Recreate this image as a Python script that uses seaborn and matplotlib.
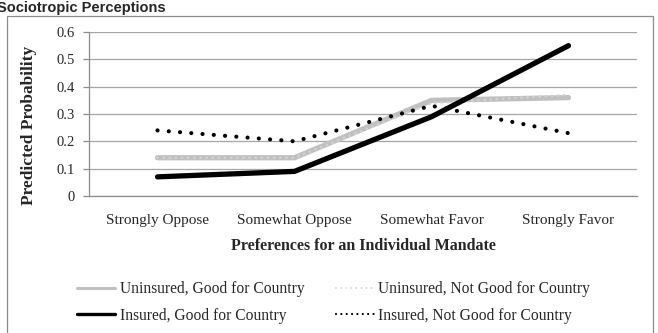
import matplotlib
matplotlib.use("Agg")
import matplotlib.pyplot as plt
import matplotlib.patches as patches
from matplotlib.lines import Line2D
import pandas as pd
import seaborn as sns

sns.set_style("white")
plt.rcParams['font.family'] = ['Liberation Serif', 'DejaVu Serif']

# data
categories = ["Strongly Oppose", "Somewhat Oppose", "Somewhat Favor", "Strongly Favor"]
uninsured_good = [0.14, 0.14, 0.35, 0.36]
uninsured_not_good = [0.14, 0.14, 0.34, 0.37]
insured_good = [0.07, 0.09, 0.29, 0.55]
insured_not_good = [0.24, 0.20, 0.33, 0.23]
y_ticks = [0, 0.1, 0.2, 0.3, 0.4, 0.5, 0.6]
y_tick_labels = ["0", "0.1", "0.2", "0.3", "0.4", "0.5", "0.6"]

series = {
    "Uninsured, Good for Country": uninsured_good,
    "Uninsured, Not Good for Country": uninsured_not_good,
    "Insured, Good for Country": insured_good,
    "Insured, Not Good for Country": insured_not_good,
}
styles = {
    "Uninsured, Good for Country": dict(color="#c0c0c0", lw=3.8, ls="-"),
    "Uninsured, Not Good for Country": dict(color="#d2d2d2", lw=2.0, ls=(0, (0.01, 2.2))),
    "Insured, Good for Country": dict(color="black", lw=3.8, ls="-"),
    "Insured, Not Good for Country": dict(color="black", lw=3.0, ls=(0, (0.01, 2.7))),
}
# thinner versions for the legend keys
legend_styles = {
    "Uninsured, Good for Country": dict(color="#c0c0c0", lw=2.2, ls="-"),
    "Uninsured, Not Good for Country": dict(color="#d2d2d2", lw=1.4, ls=(0, (0.01, 2.6))),
    "Insured, Good for Country": dict(color="black", lw=2.4, ls="-"),
    "Insured, Not Good for Country": dict(color="black", lw=1.6, ls=(0, (0.01, 2.4))),
}

fig = plt.figure(figsize=(6.58, 3.33), dpi=100)
ax = fig.add_axes([89 / 658, 1 - 196 / 333, (637 - 89) / 658, (196 - 32) / 333])

# outer chart border
fig.patches.append(patches.Rectangle((7 / 658, -0.05), (653 - 7) / 658, 1.05 - 16 / 333,
                                     transform=fig.transFigure, fill=False,
                                     edgecolor="#8c8c8c", linewidth=0.9))

for name, vals in series.items():
    d = pd.DataFrame({"x": range(len(categories)), "y": vals})
    st = styles[name]
    sns.lineplot(data=d, x="x", y="y", ax=ax, color=st["color"], linewidth=st["lw"],
                 linestyle=st["ls"], legend=False)
    line = ax.get_lines()[-1]
    line.set_dash_capstyle("round")
    line.set_solid_capstyle("round")

ax.set_xlim(-0.5, 3.5)
ax.set_ylim(0, 0.6)
ax.set_yticks(y_ticks)
ax.set_yticklabels(y_tick_labels, fontsize=10.5)
ax.yaxis.grid(True, color="#a6a6a6", linewidth=0.9)
ax.set_axisbelow(True)
ax.set_xticks(range(len(categories)))
ax.set_xticklabels(categories, fontsize=11)
ax.set_xticks([-0.5, 0.5, 1.5, 2.5, 3.5], minor=True)
ax.tick_params(axis="x", which="major", length=0, pad=13)
ax.tick_params(axis="x", which="minor", length=4, color="#8c8c8c", width=0.9, direction="out")
ax.tick_params(axis="y", length=4, color="#8c8c8c", width=0.9, direction="out", pad=6, left=True)

for s in ["top", "right"]:
    ax.spines[s].set_visible(False)
for s in ["left", "bottom"]:
    ax.spines[s].set_color("#8c8c8c")
    ax.spines[s].set_linewidth(0.9)

ax.set_xlabel("Preferences for an Individual Mandate", fontsize=11.5, fontweight="bold", labelpad=8)
ax.set_ylabel("Predicted Probability", fontsize=12.5, fontweight="bold")
ax.yaxis.set_label_coords(37 / 658, 1 - 125 / 333, transform=fig.transFigure)

order = ["Uninsured, Good for Country", "Insured, Good for Country",
         "Uninsured, Not Good for Country", "Insured, Not Good for Country"]
keys = []
for n in order:
    st = legend_styles[n]
    h = Line2D([], [], color=st["color"], linewidth=st["lw"], linestyle=st["ls"])
    h.set_dash_capstyle("round")
    keys.append(h)
ax.legend(keys, order, ncol=2, frameon=False,
          loc="upper left", bbox_to_anchor=(77 / 658, 1 - 281 / 333),
          bbox_transform=fig.transFigure, fontsize=11.2, handlelength=2.45,
          handletextpad=0.3, columnspacing=2.0, labelspacing=0.7, borderpad=0,
          borderaxespad=0)

fig.text(-3 / 658, 1 - 12 / 333, "Sociotropic Perceptions", fontsize=10.5, fontweight="bold",
         family=["Liberation Sans", "DejaVu Sans"], ha="left", va="baseline")

fig.savefig("out.png", dpi=100)
